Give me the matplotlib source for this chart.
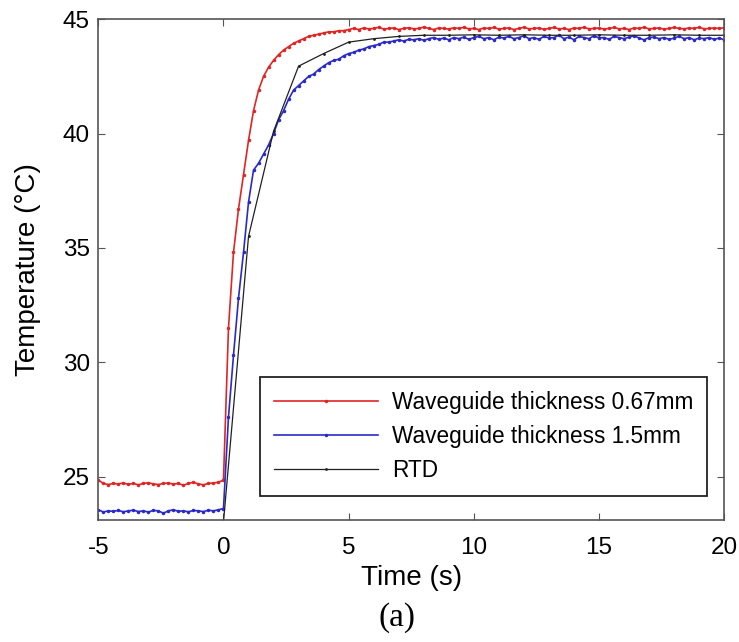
import numpy as np
import matplotlib
matplotlib.use("Agg")
import matplotlib.pyplot as plt

plt.rcParams["font.family"] = ["Liberation Sans", "DejaVu Sans"]
plt.rcParams["axes.unicode_minus"] = False

# sampling of the two waveguide sensors (0.2 s)
time = np.linspace(-5, 20, 126)

# Waveguide thickness 0.67mm
temp_thin = [
    24.85, 24.7, 24.65, 24.7, 24.68, 24.72, 24.66, 24.7, 24.64, 24.7,
    24.73, 24.68, 24.65, 24.7, 24.72, 24.67, 24.7, 24.62, 24.7, 24.75,
    24.68, 24.64, 24.7, 24.72, 24.75, 24.85,
    31.5, 34.8, 36.7, 38.2, 39.7, 41.0, 41.9, 42.5, 42.9, 43.2,
    43.45, 43.65, 43.8, 43.95, 44.05, 44.15, 44.25, 44.3, 44.35, 44.4,
    44.45, 44.45, 44.5, 44.5, 44.55,
    44.6, 44.55, 44.62, 44.58, 44.6, 44.65, 44.57, 44.6, 44.62, 44.55,
    44.6, 44.63, 44.58, 44.6, 44.66, 44.6, 44.55, 44.62, 44.6, 44.57,
    44.63, 44.6, 44.65, 44.58, 44.6, 44.55, 44.62, 44.6, 44.64, 44.57,
    44.6, 44.62, 44.55, 44.6, 44.65, 44.58, 44.6, 44.62, 44.56, 44.6,
    44.64, 44.58, 44.6, 44.55, 44.62, 44.6, 44.65, 44.58, 44.6, 44.62,
    44.57, 44.6, 44.64, 44.58, 44.6, 44.55, 44.62, 44.6, 44.65, 44.58,
    44.6, 44.62, 44.57, 44.6, 44.64, 44.6, 44.58, 44.62, 44.6, 44.65,
    44.58, 44.6, 44.62, 44.6, 44.63,
]

# Waveguide thickness 1.5mm
temp_thick = [
    23.55, 23.45, 23.5, 23.48, 23.52, 23.46, 23.5, 23.53, 23.47, 23.5,
    23.45, 23.52, 23.5, 23.4, 23.5, 23.55, 23.48, 23.5, 23.46, 23.52,
    23.5, 23.47, 23.53, 23.5, 23.55, 23.6,
    27.6, 30.3, 32.8, 34.8, 37.0, 38.4, 38.7, 39.1, 39.5, 40.0,
    40.6, 41.0, 41.5, 41.9, 42.1, 42.3, 42.5, 42.6, 42.8, 42.95,
    43.1, 43.2, 43.25, 43.4, 43.5,
    43.55, 43.65, 43.7, 43.8, 43.85, 43.9, 44.0, 44.0, 44.05, 44.1,
    44.05, 44.12, 44.1, 44.15, 44.08, 44.15, 44.2, 44.12, 44.18, 44.1,
    44.2, 44.15, 44.22, 44.12, 44.2, 44.25, 44.15, 44.2, 44.1, 44.22,
    44.18, 44.25, 44.15, 44.2, 44.28, 44.15, 44.2, 44.12, 44.25, 44.18,
    44.2, 44.3, 44.15, 44.22, 44.1, 44.25, 44.2, 44.15, 44.28, 44.18,
    44.2, 44.12, 44.25, 44.2, 44.15, 44.22, 44.28, 44.18, 44.1, 44.2,
    44.22, 44.15, 44.2, 44.12, 44.18, 44.25, 44.15, 44.2, 44.1, 44.18,
    44.15, 44.2, 44.12, 44.18, 44.1,
]

# RTD reference, 1 s sampling
rtd_time = [0, 1, 2, 3, 4, 5, 6, 7, 8, 9, 10, 11, 12, 13, 14, 15, 16, 17, 18, 19, 20]
rtd_temp = [23.0, 35.5, 40.1, 42.95, 43.5, 44.0, 44.15, 44.25, 44.3, 44.3, 44.32,
            44.3, 44.32, 44.3, 44.3, 44.32, 44.3, 44.3, 44.32, 44.3, 44.3]

labels = ["Waveguide thickness 0.67mm", "Waveguide thickness 1.5mm", "RTD"]

fig = plt.figure(figsize=(7.39, 6.42), dpi=100)
ax = fig.add_axes([0.133, 0.19, 0.847, 0.78])

ax.plot(time, temp_thin, color="#e02525", lw=1.2, marker=".", ms=3, label=labels[0])
ax.plot(time, temp_thick, color="#2a2ac8", lw=1.2, marker=".", ms=3, label=labels[1])
ax.plot(rtd_time, rtd_temp, color="#202020", lw=0.9, marker=".", ms=2, label=labels[2])

ax.set_xlim(-5, 20)
ax.set_ylim(23.1, 45)
ax.set_xticks([-5, 0, 5, 10, 15, 20])
ax.set_yticks([25, 30, 35, 40, 45])
ax.tick_params(direction="in", top=True, right=True, labelsize=17.5, length=5,
               color="#555555")
ax.tick_params(axis="x", pad=12)
ax.tick_params(axis="y", pad=6)
for sp in ax.spines.values():
    sp.set_color("#555555")
    sp.set_linewidth(1.2)

ax.set_xlabel("Time (s)", fontsize=20, va="center")
ax.xaxis.set_label_coords(0.5, -0.116)
ax.set_ylabel("Temperature (°C)", fontsize=20, va="center")
ax.yaxis.set_label_coords(-0.112, 0.5)

leg = ax.legend(loc="lower right", bbox_to_anchor=(0.972, 0.048), borderaxespad=0,
                fontsize=16.3, handlelength=4.6, handletextpad=0.6, fancybox=False,
                framealpha=1, edgecolor="#222222", labelspacing=0.5, borderpad=0.6)
leg.get_frame().set_linewidth(1.3)

fig.text(397 / 739, 1 - 618 / 642, "(a)", fontsize=24, family="Liberation Serif",
         ha="center", va="center")

fig.savefig("out.png", dpi=100)
